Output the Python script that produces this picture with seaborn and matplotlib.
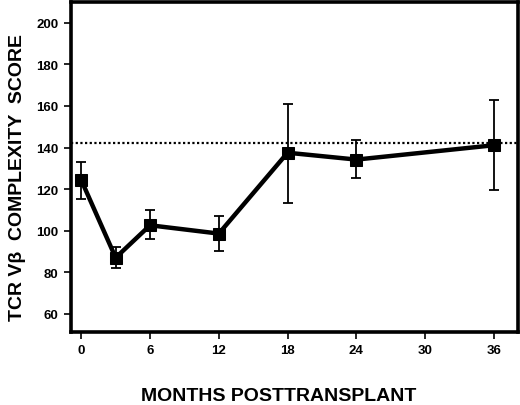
import numpy as np
import pandas as pd
import matplotlib
matplotlib.use("Agg")
import matplotlib.pyplot as plt
import seaborn as sns

# Data
months = [0, 3, 6, 12, 18, 24, 36]
score = [124.3, 87.0, 102.6, 98.6, 137.5, 134.2, 141.1]
err_upper = [133.1, 92.3, 109.8, 107.2, 161.0, 143.5, 162.7]
err_lower = [115.1, 81.9, 95.8, 90.3, 113.4, 125.3, 119.7]
reference_level = 142.3
x_ticks = [0, 6, 12, 18, 24, 30, 36]
y_ticks = [60, 80, 100, 120, 140, 160, 180, 200]

df = pd.DataFrame({"month": months, "score": score})

sns.set_style("ticks")
plt.rcParams['font.family'] = ['Liberation Sans', 'DejaVu Sans']
plt.rcParams['font.weight'] = 'bold'
plt.rcParams['text.color'] = 'black'
plt.rcParams['axes.labelcolor'] = 'black'

fig = plt.figure(figsize=(5.2, 4.06), dpi=100)
ax = fig.add_axes([0.1365, 0.18, 0.8595, 0.8126])

# error bars
yerr = np.array([np.array(score) - np.array(err_lower),
                 np.array(err_upper) - np.array(score)])
ax.errorbar(months, score, yerr=yerr, fmt='none', ecolor='black',
            elinewidth=1.3, capsize=3.5, capthick=1.3, zorder=2)

sns.lineplot(data=df, x="month", y="score", ax=ax, color='black',
             linewidth=3.2, marker='s', markersize=8, markeredgecolor='black',
             zorder=3)

ax.axhline(reference_level, color='black', linestyle=(0, (1, 1.1)),
           linewidth=1.6, zorder=1)

ax.set_xlim(-0.9, 38.1)
ax.set_ylim(51.3, 210)
ax.set_xticks(x_ticks)
ax.set_yticks(y_ticks)
ax.tick_params(axis='both', direction='out', length=5, width=1.2,
               labelsize=9.5, colors='black', pad=4)
for lbl in ax.get_xticklabels() + ax.get_yticklabels():
    lbl.set_fontweight('bold')

for side in ['top', 'right', 'bottom', 'left']:
    ax.spines[side].set_visible(True)
    ax.spines[side].set_linewidth(2.6)
    ax.spines[side].set_color('black')

ax.set_xlabel('MONTHS POSTTRANSPLANT', fontsize=14, fontweight='bold',
              color='black', va='center')
ax.xaxis.set_label_coords(0.465, -0.194)
ax.set_ylabel('TCR V\u03b2  COMPLEXITY  SCORE', fontsize=14,
              fontweight='bold', color='black', va='center')
ax.yaxis.set_label_coords(-0.119, 0.47)

fig.savefig('out.png', dpi=100)
